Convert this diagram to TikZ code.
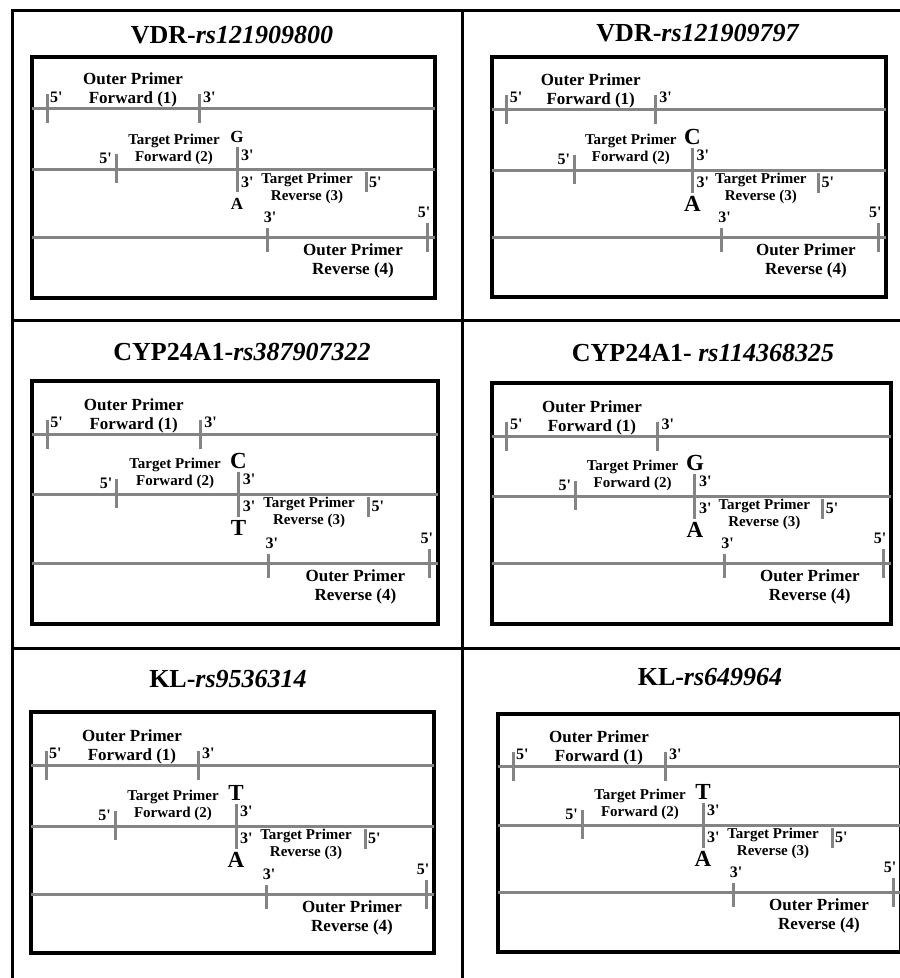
\documentclass[tikz,border=0pt]{standalone}
\usepackage{fontspec}
\setmainfont{Liberation Serif}
\definecolor{strandgray}{RGB}{132,132,132}
\tikzset{
  gridline/.style={line width=3pt, draw=black},
  boxline/.style={line width=3.2pt, draw=black},
  strand/.style={line width=3pt, draw=strandgray},
  tickmark/.style={line width=3pt, draw=strandgray},
  outerlbl/.style={font=\fontsize{17}{19}\selectfont\bfseries, align=center, inner sep=0pt},
  targetlbl/.style={font=\fontsize{15}{17}\selectfont\bfseries, align=center, inner sep=0pt},
  endlbl/.style={font=\fontsize{16}{16}\selectfont\bfseries, inner sep=0pt},
  snplbl/.style={font=\fontsize{\snpsz}{\snpsz}\selectfont\bfseries, inner sep=0pt},
  titlelbl/.style={font=\fontsize{26}{28}\selectfont\bfseries, inner sep=0pt},
}
\def\snpsz{23}
\newcommand\pq{\textquotesingle}
\newcommand\pcrpanel[9]{%
  \begin{scope}[shift={#2}, xscale=#3/403]
    \draw[boxline] (0,0) rectangle (403,#4);
    % strands
    \coordinate (#1-s1a) at (0,#5);  \coordinate (#1-s1b) at (403,#5);
    \coordinate (#1-s2a) at (0,#6);  \coordinate (#1-s2b) at (403,#6);
    \coordinate (#1-s3a) at (0,#7);  \coordinate (#1-s3b) at (403,#7);
    \draw[strand] (#1-s1a) -- (#1-s1b);
    \draw[strand] (#1-s2a) -- (#1-s2b);
    \draw[strand] (#1-s3a) -- (#1-s3b);
    % ticks
    \draw[tickmark] (15,#5-14.5) -- (15,#5+14.5);
    \draw[tickmark] (167,#5-14.5) -- (167,#5+14.5);
    \draw[tickmark] (84,#6-15.5) -- (84,#6+13.5);
    \draw[tickmark] (205,#6-22.5) -- (205,#6+22.5);
    \draw[tickmark] (334,#6+2.5) -- (334,#6+22.5);
    \draw[tickmark] (235,#7-9) -- (235,#7+15);
    \draw[tickmark] (395,#7-14) -- (395,#7+15);
    % labels
    \node[outerlbl] (#1-of) at (101,#5-18.5) {Outer Primer\\Forward (1)};
    \node[endlbl, anchor=west] (#1-of5) at (18,#5-11.5) {5\pq};
    \node[endlbl, anchor=west] (#1-of3) at (171,#5-11.5) {3\pq};
    \node[targetlbl] (#1-tf) at (142,#6-20.5) {Target Primer\\Forward (2)};
    \node[endlbl, anchor=east] (#1-tf5) at (80,#6-11) {5\pq};
    \node[snplbl] (#1-top) at (205,#6-33) {#8};
    \node[endlbl, anchor=west] (#1-tf3) at (209,#6-14.5) {3\pq};
    \node[endlbl, anchor=west] (#1-tr3) at (209,#6+12.5) {3\pq};
    \node[snplbl] (#1-bot) at (205,#6+34) {#9};
    \node[targetlbl] (#1-tr) at (275,#6+18.5) {Target Primer\\Reverse (3)};
    \node[endlbl, anchor=west] (#1-tr5) at (337,#6+12.5) {5\pq};
    \node[endlbl] (#1-or3) at (238,#7-20) {3\pq};
    \node[endlbl] (#1-or5) at (392,#7-25) {5\pq};
    \node[outerlbl] (#1-or) at (321,#7+23.5) {Outer Primer\\Reverse (4)};
  \end{scope}}
\begin{document}
\begin{tikzpicture}[x=1pt,y=-1pt]
  \useasboundingbox (0,0) rectangle (900,978);
  \clip (0,0) rectangle (900,978);
  \fill[white] (0,0) rectangle (900,978);
  % outer grid
  \draw[gridline] (12,978) -- (12,10) -- (900,10);
  \draw[gridline] (462,10) -- (462,978);
  \draw[gridline] (12,320) -- (900,320);
  \draw[gridline] (12,648) -- (900,648);
  % titles
  \node[titlelbl] (t1) at (232,35) {VDR-\textit{rs121909800}};
  \node[titlelbl] (t2) at (698,33) {VDR-\textit{rs121909797}};
  \node[titlelbl] (t3) at (242,352) {CYP24A1-\textit{rs387907322}};
  \node[titlelbl] (t4) at (703,353) {CYP24A1- \textit{rs114368325}};
  \node[titlelbl] (t5) at (228,679) {KL-\textit{rs9536314}};
  \node[titlelbl] (t6) at (710,677) {KL-\textit{rs649964}};
  % panels
  \def\snpsz{17}
  \pcrpanel{p1}{(32,57)}{403}{241}{51.5}{112.5}{180}{G}{A}
  \def\snpsz{23}
  \pcrpanel{p2}{(492,57)}{394}{240}{52}{113}{180}{C}{A}
  \pcrpanel{p3}{(32,381)}{406}{243}{53}{113}{182}{C}{T}
  \pcrpanel{p4}{(492,383)}{399}{241}{53}{113}{180}{G}{A}
  \pcrpanel{p5}{(31,712)}{403}{241}{53}{114}{182}{T}{A}
  \pcrpanel{p6}{(498,714)}{403}{238}{52}{111}{178}{T}{A}
\end{tikzpicture}
\end{document}
